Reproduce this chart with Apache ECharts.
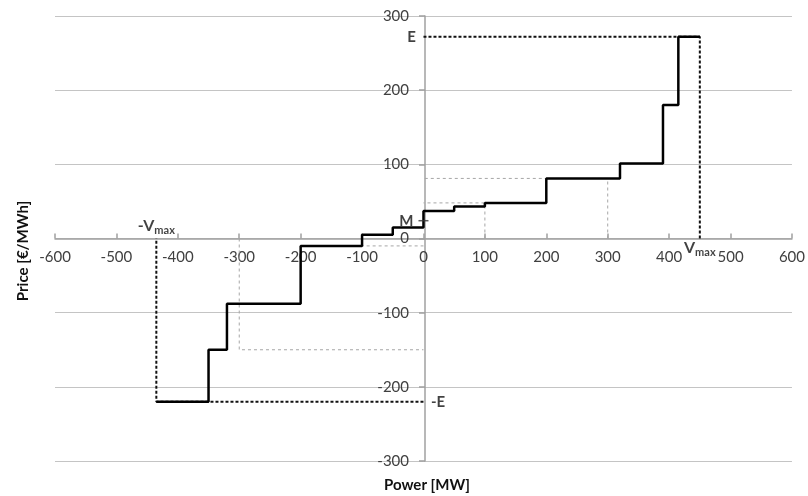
<!DOCTYPE html>
<html>
<head>
<meta charset="utf-8">
<script src="https://cdn.jsdelivr.net/npm/echarts@6/dist/echarts.min.js"></script>
<style>html,body{margin:0;padding:0;background:#fff}#c{width:808px;height:496px}</style>
</head>
<body>
<div id="c"></div>
<script>
// ---- data ----
const stepPower = [-435, -350, -320, -200, -100, -50, 0, 50, 100, 200, 320, 390, 415, 450];
const stepPrice = [-220, -150, -88, -10, 5, 15, 37, 43, 48, 81, 101, 180, 272, 272];
const refPower = [-300, -100, 100, 300];
const refPrice = [-150, -10, 48, 81];
const vMaxPos = 450;
const vMaxNeg = -435;
const eLevel = 272;
const negELevel = -220;
const mLevel = 24;
const xRange = [-600, 600, 100];
const yRange = [-300, 300, 100];
const xTitle = 'Power [MW]';
const yTitle = 'Price [€/MWh]';

const FONT = 'Lato';
const G = { left: 55, right: 13, top: 16, bottom: 35, w: 808, h: 496 };
const plotW = G.w - G.left - G.right;
const plotH = G.h - G.top - G.bottom;
// shift axes so they sit on the zero lines (labels follow)
const yAxisOffset = -plotW * (0 - xRange[0]) / (xRange[1] - xRange[0]);
const xAxisOffset = -plotH * (0 - yRange[0]) / (yRange[1] - yRange[0]);

const chart = echarts.init(document.getElementById('c'));

const stepData = stepPower.map((p, i) => [p, stepPrice[i]]);

const refSeries = refPower.map((p, i) => ({
  type: 'line', silent: true, showSymbol: false, animation: false, z: 2,
  data: [[p, 0], [p, refPrice[i]], [0, refPrice[i]]],
  lineStyle: { color: '#a6a6a6', width: 1, type: [3, 3] }
}));

const boundSeries = [
  [[0, eLevel], [vMaxPos, eLevel], [vMaxPos, 0]],
  [[0, negELevel], [vMaxNeg, negELevel], [vMaxNeg, 0]]
].map(d => ({
  type: 'line', silent: true, showSymbol: false, animation: false, z: 3,
  data: d,
  lineStyle: { color: '#111', width: 2, type: [3, 2] }
}));

const labelBase = { show: true, fontFamily: FONT, fontWeight: 'bold', fontSize: 15, color: '#111' };
const rich = {
  v: { fontFamily: FONT, fontWeight: 'bold', fontSize: 16, color: '#111' },
  s: { fontFamily: FONT, fontWeight: 'bold', fontSize: 11, color: '#111', padding: [9, 0, 0, 0] }
};

const annot = {
  type: 'scatter', silent: true, animation: false, z: 6,
  symbolSize: 1, itemStyle: { color: 'rgba(0,0,0,0)' },
  data: [
    { value: [0, eLevel], label: Object.assign({}, labelBase, { formatter: 'E', position: 'left', distance: 7 }) },
    { value: [0, negELevel], label: Object.assign({}, labelBase, { formatter: '-E', position: 'right', distance: 7 }) },
    { value: [vMaxNeg, 0], label: { show: true, formatter: '{v|-V}{s|max}', position: 'top', distance: 2, rich } },
    { value: [vMaxPos, 0], label: { show: true, formatter: '{v|V}{s|max}', position: 'bottom', distance: -1, rich } }
  ]
};

const mMark = {
  type: 'scatter', silent: true, animation: false, z: 6,
  symbol: 'rect', symbolSize: [10, 1.5], itemStyle: { color: '#333' },
  data: [{ value: [0, mLevel], label: Object.assign({}, labelBase, { formatter: 'M', position: 'left', distance: 5 }) }]
};

chart.setOption({
  animation: false,
  grid: { left: G.left, right: G.right, top: G.top, bottom: G.bottom, containLabel: false },
  xAxis: {
    type: 'value', min: xRange[0], max: xRange[1], interval: xRange[2],
    position: 'bottom', offset: xAxisOffset,
    axisLine: { onZero: false, lineStyle: { color: '#a0a0a0', width: 1.5 } },
    axisTick: { show: true, inside: true, length: 5, lineStyle: { color: '#a0a0a0', width: 1.5 } },
    axisLabel: { fontFamily: FONT, fontSize: 15, color: '#404040', margin: 11 },
    splitLine: { show: false }
  },
  yAxis: {
    type: 'value', min: yRange[0], max: yRange[1], interval: yRange[2],
    position: 'left', offset: yAxisOffset,
    axisLine: { show: true, onZero: false, lineStyle: { color: '#a0a0a0', width: 1.5 } },
    axisTick: { show: true, inside: false, length: 6, lineStyle: { color: '#a0a0a0', width: 1.5 } },
    axisLabel: { fontFamily: FONT, fontSize: 15, color: '#404040', margin: 16 },
    splitLine: { show: true, lineStyle: { color: '#c4c4c4', width: 1 } }
  },
  graphic: [
    { type: 'text', x: 23, y: 251, rotation: Math.PI / 2,
      style: { text: yTitle, font: 'bold 15px ' + FONT, fill: '#111', textAlign: 'center', textVerticalAlign: 'middle' } },
    { type: 'text', x: 427, y: 485,
      style: { text: xTitle, font: 'bold 15px ' + FONT, fill: '#111', textAlign: 'center', textVerticalAlign: 'middle' } }
  ],
  series: [
    ...refSeries,
    ...boundSeries,
    {
      type: 'line', step: 'end', silent: true, showSymbol: false, animation: false, z: 5,
      data: stepData,
      lineStyle: { color: '#000', width: 2.5 }
    },
    annot,
    mMark
  ]
});
</script>
</body>
</html>
